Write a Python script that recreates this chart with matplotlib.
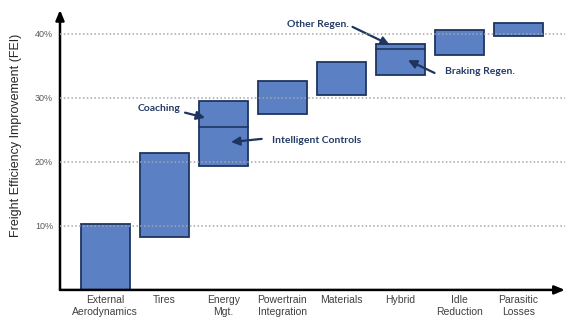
import numpy as np
import matplotlib.pyplot as plt

# Categorias e faixas de melhoria (% FEI): base e topo de cada barra
categorias = ['External\nAerodynamics', 'Tires', 'Energy\nMgt.', 'Powertrain\nIntegration',
              'Materials', 'Hybrid', 'Idle\nReduction', 'Parasitic\nLosses']
base = [0.0, 8.2, 19.4, 27.5, 30.5, 33.6, 36.7, 39.7]
topo = [10.3, 21.4, 29.5, 32.7, 35.6, 38.5, 40.6, 41.7]

# Divisões internas (Energy Mgt. e Hybrid)
divisao_idx = [2, 5]
divisao_val = [25.5, 37.7]

ticks_y = [10, 20, 30, 40]

cor_barra = '#5B80C3'
cor_borda = '#1F3560'
cor_texto = '#243B66'

fig = plt.figure(figsize=(5.66, 3.2), dpi=100)
ax = fig.add_axes([0.106, 0.094, 0.892, 0.875])

x = np.arange(len(categorias))
alturas = np.array(topo) - np.array(base)
ax.bar(x, alturas, bottom=base, width=0.83, color=cor_barra, edgecolor=cor_borda,
       linewidth=1.3, zorder=2)
for i, v in zip(divisao_idx, divisao_val):
    ax.plot([x[i] - 0.415, x[i] + 0.415], [v, v], color=cor_borda, lw=1.2, zorder=3)

# Grade pontilhada por cima das barras
for t in ticks_y:
    ax.axhline(t, color='#A6A6A6', lw=1.1, ls=(0, (1, 1.5)), zorder=4)

ax.set_xlim(-0.77, 7.79)
ax.set_ylim(0, 43.75)
for s in ax.spines.values():
    s.set_visible(False)

ax.set_yticks(ticks_y)
ax.set_yticklabels([f'{t}%' for t in ticks_y], fontsize=6.5, color='#595959',
                   family='Liberation Sans')
ax.set_xticks(x)
ax.set_xticklabels(categorias, fontsize=7.5, color='#404040', family='Liberation Sans',
                   linespacing=1.15)
ax.tick_params(length=0, pad=4)
ax.tick_params(axis='y', pad=5)
ax.set_ylabel('Freight Efficiency Improvement (FEI)', fontsize=9, color='#262626',
              family='Liberation Sans')
ax.yaxis.set_label_coords(-0.076, 0.553)

# Eixos com setas
seta = dict(arrowstyle='-|>,head_length=0.6,head_width=0.25', color='black', lw=1.8,
            shrinkA=0, shrinkB=0)
ax.annotate('', xy=(0, 1.0), xytext=(0, 0), xycoords='axes fraction', arrowprops=seta)
ax.annotate('', xy=(1.0, 0), xytext=(0, 0), xycoords='axes fraction', arrowprops=seta)

# Rótulos com setas
rot = dict(arrowstyle='-|>,head_length=0.5,head_width=0.25', color=cor_borda, lw=1.6,
           shrinkA=0, shrinkB=0)
fonte = dict(fontsize=7.5, fontweight='bold', color=cor_texto, family='Lato', va='center')
ax.text(1.27, 28.4, 'Coaching', ha='right', **fonte)
ax.annotate('', xy=(1.69, 26.9), xytext=(1.35, 27.7), arrowprops=rot)
ax.text(2.82, 23.4, 'Intelligent Controls', ha='left', **fonte)
ax.annotate('', xy=(2.13, 23.1), xytext=(2.65, 23.6), arrowprops=rot)
ax.text(3.6, 41.4, 'Other Regen.', ha='center', **fonte)
ax.annotate('', xy=(4.82, 38.3), xytext=(4.19, 41.1), arrowprops=rot)
ax.text(5.75, 34.1, 'Braking Regen.', ha='left', **fonte)
ax.annotate('', xy=(5.13, 35.9), xytext=(5.58, 33.9), arrowprops=rot)

plt.savefig('out.png', dpi=100)
